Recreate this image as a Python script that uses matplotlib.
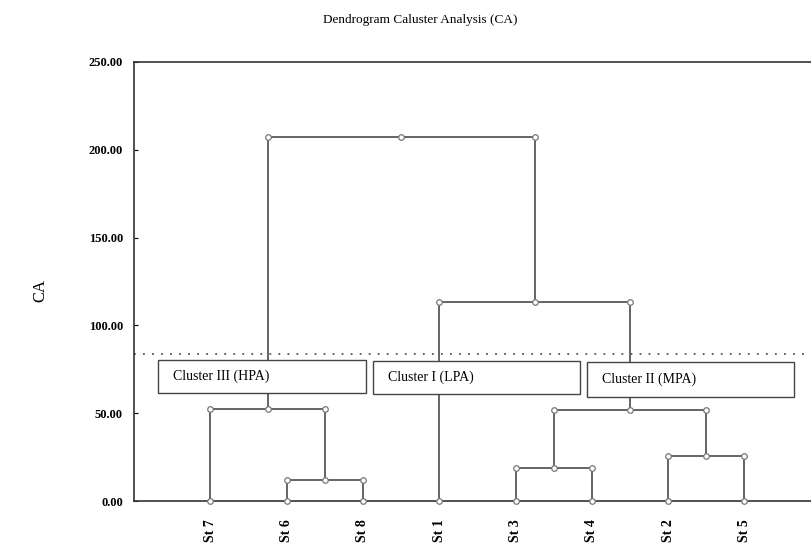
import matplotlib.pyplot as plt
from matplotlib.patches import Rectangle

# leaves in dendrogram order
leaf_labels = ['St 7', 'St 6', 'St 8', 'St 1', 'St 3', 'St 4', 'St 2', 'St 5']
# merges: (left node, right node, height); nodes 0-7 are leaves, 8.. are merges
merge_left = [1, 4, 6, 0, 9, 3, 11]
merge_right = [2, 5, 7, 8, 10, 12, 13]
merge_height = [12.0, 18.8, 25.6, 52.4, 52.0, 113.3, 207.3]
cut_height = 83.7
cluster_names = ['Cluster III (HPA)', 'Cluster I (LPA)', 'Cluster II (MPA)']

plt.rcParams['font.family'] = ['Liberation Serif', 'DejaVu Serif']

fig = plt.figure(figsize=(8.11, 5.44), dpi=100)
ax = fig.add_axes([134 / 811, 43 / 544, 677 / 811, 439 / 544])

line_c = '#3a3a3a'
mk = dict(marker='o', ms=4, mfc='white', mec='#777777', mew=0.9, ls='none', zorder=4, clip_on=False)

pos = [i + 1 for i in range(len(leaf_labels))]
hgt = [0.0] * len(leaf_labels)
for l, r, h in zip(merge_left, merge_right, merge_height):
    xl, xr = pos[l], pos[r]
    ax.plot([xl, xl, xr, xr], [hgt[l], h, h, hgt[r]], color=line_c, lw=1.1, zorder=3)
    xm = (xl + xr) / 2
    ax.plot([xl, xm, xr], [h, h, h], **mk)
    pos.append(xm)
    hgt.append(h)

ax.plot(range(1, len(leaf_labels) + 1), [0] * len(leaf_labels), **mk)

ax.axhline(cut_height, color='#555555', lw=1.3, ls=(0, (1, 4)), zorder=2)

boxes = [(0.31, 61.5, 2.73, 18.8), (3.13, 61.0, 2.72, 19.0), (5.94, 59.3, 2.71, 19.9)]
for (bx, by, bw, bh), name in zip(boxes, cluster_names):
    ax.add_patch(Rectangle((bx, by), bw, bh, facecolor='white', edgecolor='#444444', lw=1.0, zorder=5))
    ax.text(bx + 0.2, by + bh / 2, name, fontsize=10, va='center', ha='left', zorder=6)

ax.set_xlim(0, 677 / 76.3)
ax.set_ylim(0, 250)
ax.set_yticks([0, 50, 100, 150, 200, 250])
ax.set_yticklabels(['%.2f' % v for v in [0, 50, 100, 150, 200, 250]], fontsize=9, fontweight='bold')
ax.set_xticks(range(1, len(leaf_labels) + 1))
ax.set_xticklabels(leaf_labels, rotation=90, fontsize=10, fontweight='bold')
ax.tick_params(axis='y', direction='in', length=3, pad=8)
ax.tick_params(axis='x', length=0, pad=13)
ax.spines['right'].set_visible(False)
for s in ['left', 'top', 'bottom']:
    ax.spines[s].set_color('#333333')
    ax.spines[s].set_linewidth(1.2)

fig.text(420 / 811, 1 - 20 / 544, 'Dendrogram Caluster Analysis (CA)', ha='center', va='center', fontsize=9.5)
fig.text(40 / 811, 1 - 290 / 544, 'CA', rotation=90, ha='center', va='center', fontsize=12)

fig.savefig('out.png', dpi=100)
